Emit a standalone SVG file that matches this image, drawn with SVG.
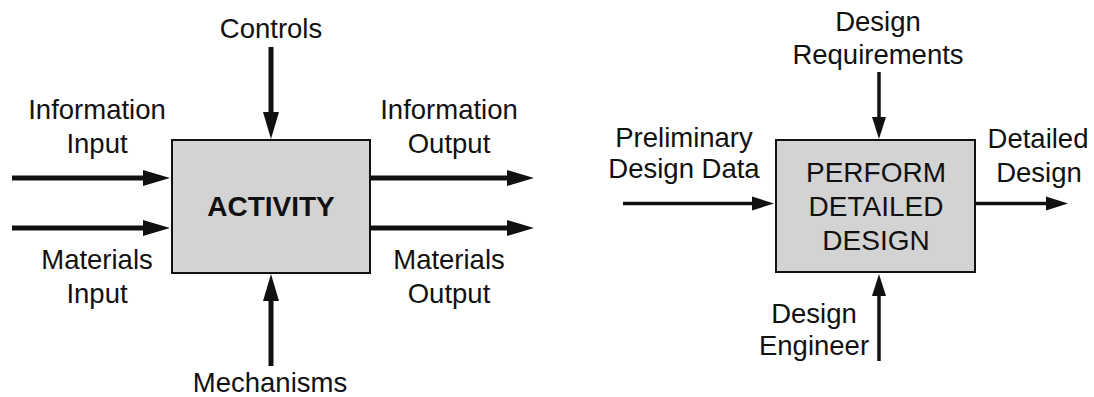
<svg xmlns="http://www.w3.org/2000/svg" width="1094" height="397" viewBox="0 0 1094 397">
<style>
.lbl{font-family:"Liberation Sans",Arial,sans-serif;font-size:27.5px;fill:#111;text-anchor:middle}
.box{fill:#d3d3d3;stroke:#111;stroke-width:2}
.thick{stroke:#111;stroke-width:5;fill:none}
.thin{stroke:#111;stroke-width:3.5;fill:none}
.boxtxt{font-family:"Liberation Sans",Arial,sans-serif;font-size:28px;fill:#111;text-anchor:middle}
</style>
<defs>
<marker id="hb" markerUnits="userSpaceOnUse" markerWidth="28" markerHeight="18" refX="1" refY="8" orient="auto" overflow="visible">
<path d="M0,0 L27,8 L0,16 Z" fill="#111"/>
</marker>
<marker id="hs" markerUnits="userSpaceOnUse" markerWidth="23" markerHeight="15" refX="1" refY="7" orient="auto" overflow="visible">
<path d="M0,0 L22,7 L0,14 Z" fill="#111"/>
</marker>
</defs>
<rect width="1094" height="397" fill="#fff"/>
<g id="connectors">
<line class="thick" x1="12" y1="178" x2="144" y2="178" marker-end="url(#hb)"/>
<line class="thick" x1="12" y1="228" x2="144" y2="228" marker-end="url(#hb)"/>
<line class="thick" x1="371" y1="178" x2="508" y2="178" marker-end="url(#hb)"/>
<line class="thick" x1="371" y1="228" x2="508" y2="228" marker-end="url(#hb)"/>
<line class="thick" x1="271" y1="47" x2="271" y2="113" marker-end="url(#hb)"/>
<line class="thick" x1="271" y1="366" x2="271" y2="300" marker-end="url(#hb)"/>
<line class="thin" x1="623" y1="203.5" x2="753" y2="203.5" marker-end="url(#hs)"/>
<line class="thin" x1="976" y1="203.5" x2="1047" y2="203.5" marker-end="url(#hs)"/>
<line class="thin" x1="879" y1="72" x2="879" y2="118" marker-end="url(#hs)"/>
<line class="thin" x1="879" y1="361" x2="879" y2="295" marker-end="url(#hs)"/>
</g>
<g id="activity">
<rect class="box" x="172" y="140" width="198" height="133"/>
<text class="boxtxt" x="271" y="216" font-weight="bold">ACTIVITY</text>
</g>
<g id="left-labels">
<text class="lbl" x="271" y="38">Controls</text>
<text class="lbl" x="97" y="119">Information</text>
<text class="lbl" x="97" y="153">Input</text>
<text class="lbl" x="97" y="269">Materials</text>
<text class="lbl" x="97" y="303">Input</text>
<text class="lbl" x="449" y="119">Information</text>
<text class="lbl" x="449" y="153">Output</text>
<text class="lbl" x="449" y="269">Materials</text>
<text class="lbl" x="449" y="303">Output</text>
<text class="lbl" x="270" y="392">Mechanisms</text>
</g>
<g id="perform">
<rect class="box" x="776" y="140" width="199" height="132"/>
<text class="boxtxt" x="876" y="182">PERFORM</text>
<text class="boxtxt" x="876" y="216">DETAILED</text>
<text class="boxtxt" x="876" y="250">DESIGN</text>
</g>
<g id="right-labels">
<text class="lbl" x="878" y="31">Design</text>
<text class="lbl" x="878" y="64">Requirements</text>
<text class="lbl" x="684" y="147">Preliminary</text>
<text class="lbl" x="684" y="178">Design Data</text>
<text class="lbl" x="1038" y="148">Detailed</text>
<text class="lbl" x="1039" y="182">Design</text>
<text class="lbl" x="814" y="323">Design</text>
<text class="lbl" x="814" y="355">Engineer</text>
</g>
</svg>
